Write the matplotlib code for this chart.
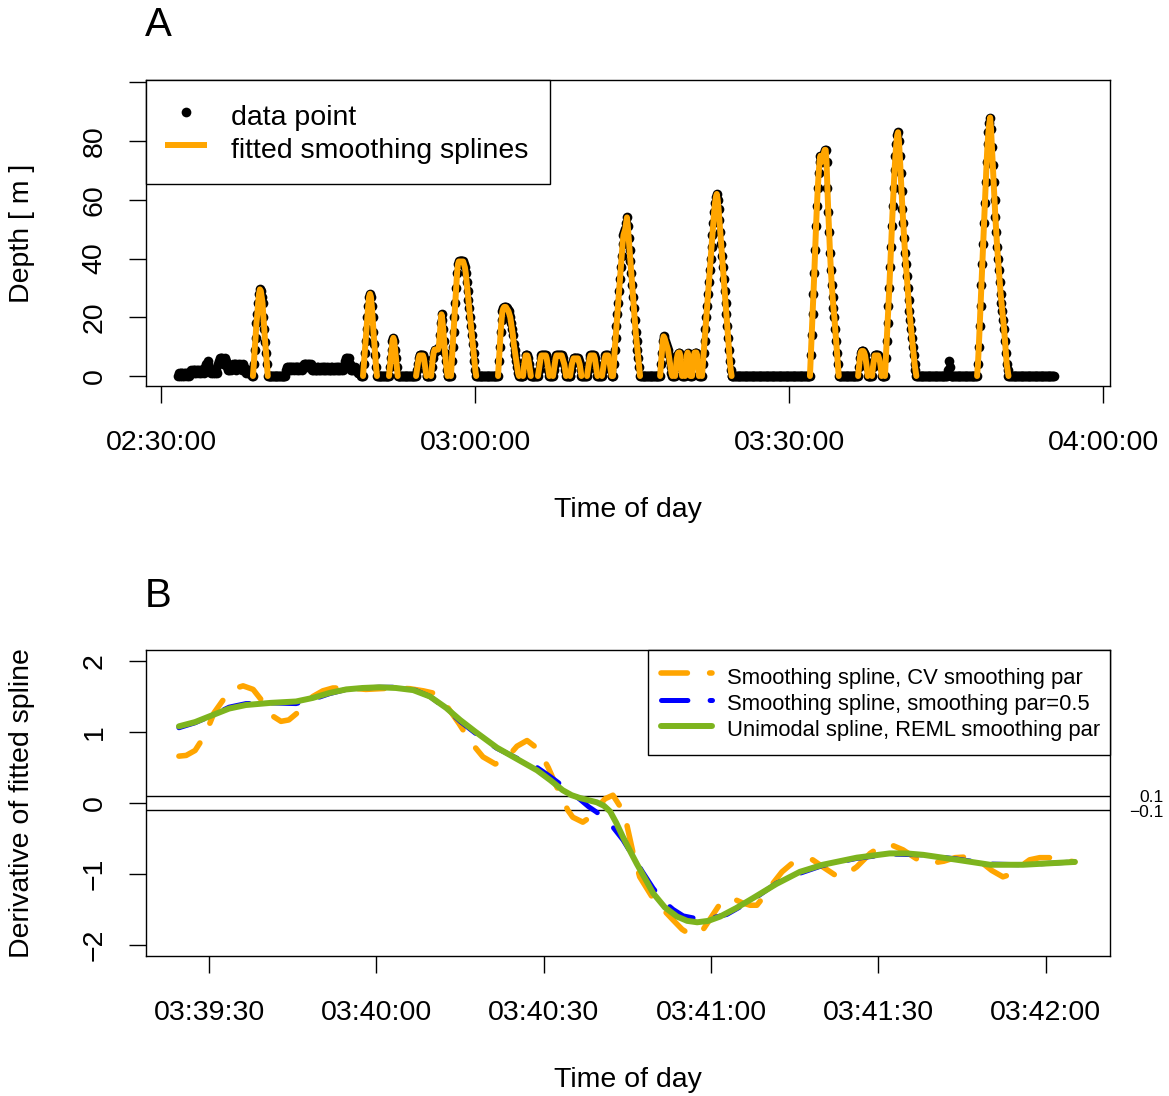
import numpy as np
import matplotlib
matplotlib.use("Agg")
import matplotlib.pyplot as plt
from matplotlib.lines import Line2D

plt.rcParams['font.family'] = ['Liberation Sans', 'DejaVu Sans']
plt.rcParams['lines.scale_dashes'] = False

W, H, DPI = 1169, 1096, 100

# ---------------- Panel A data : dive depth (m), one sample every 5 s ----------------
SAMPLE_STEP = 5
data_start = "02:31:37"
data_end = "03:55:19"

noise_a = [0, 1, 0, 1, 1, 0, 1, 0, 1, 1, 0, 1, 1, 0,
           1, 2, 1, 2, 2, 1, 2, 1, 2, 2, 1, 2, 2, 1, 2, 2, 1,
           3, 4, 3, 4, 5, 3, 2, 1,
           2, 1, 2, 2, 1, 2, 1,
           4, 5, 6, 6, 5, 6, 4, 5, 6, 5, 3, 2,
           3, 2, 3, 2, 3,
           4, 3, 4, 4, 2, 3, 4, 3, 4, 3, 2, 3, 4, 3, 2,
           1, 2, 1, 2, 1, 2, 1]
noise_b = [2, 3, 3, 2, 3, 3, 2, 3, 3, 2, 3, 3, 2, 3, 3, 2, 3, 3, 2, 3,
           4, 3, 4, 4, 3, 4, 4, 3, 4, 3, 2,
           2, 3, 2, 2, 3, 2, 3, 2, 2, 3, 2, 3, 3, 2, 2, 3, 2, 3, 2, 2, 3, 2, 3, 2, 2, 3, 2, 3, 3, 2, 2, 3, 2, 3, 2, 3, 4, 5,
           6, 6, 5, 6, 4, 3, 2,
           2, 3, 2, 3, 2, 2, 1, 2, 1, 1, 0]
dive1 = [0, 4, 9, 13, 18, 21, 25, 28, 29.5, 29, 27, 25, 20, 16, 11.5, 8, 4, 0]
dive2 = [0, 4, 8, 12, 16, 20, 24, 27, 28, 27, 24, 20, 15, 11, 7, 3, 0]
dive3 = [0, 3, 6, 9, 12, 13, 12, 9, 6, 3, 0]
dive4a = [0, 2, 4, 6, 7, 7, 7, 7, 7, 6, 4, 2, 0]
dive4b = [0, 3, 6, 8, 9, 9, 9, 9, 9, 10, 14, 18, 21, 19, 16, 12, 8, 5, 2, 0]
dive5 = [0, 5, 10, 15, 20, 25, 30, 35, 38, 39, 39, 39, 39, 39, 39, 38,
         37, 35, 32, 29, 26, 23, 20, 17, 14, 11, 8, 5, 2, 0]
dive6 = [0, 5, 10, 15, 19, 22, 23, 23.5, 23.5, 23.5, 23, 22.5, 22, 21, 20,
         18, 16, 14, 11, 9, 7, 5, 3, 1, 0]
bump1 = [0, 3, 5, 7, 7, 7, 6, 4, 2, 0]
bump2 = [0, 2, 4, 6, 7, 7, 7, 7, 7, 7, 6, 4, 2, 0]
bump3 = [0, 2, 4, 6, 7, 7, 7, 7, 7, 7, 7, 6, 5, 4, 2, 0]
bump4 = [0, 2, 4, 5, 6, 6, 6, 6, 6, 6, 5, 4, 2, 0]
bump5 = [0, 2, 4, 6, 7, 7, 7, 7, 7, 6, 4, 2, 0]
bump6 = [0, 2, 4, 6, 7, 7, 7, 7, 6, 4, 2, 0]
dive8 = [0, 4, 9, 13, 17, 21, 25, 29, 33, 37, 41, 45, 48, 49, 50, 52, 54,
         51, 47, 43, 39, 35, 31, 27, 23, 19, 15, 12, 9, 6, 3, 0]
dive9 = [0, 4, 8, 12, 13.5, 13, 12, 11, 10, 9, 7, 5, 3, 1, 0]
bump7 = [0, 3, 6, 7.5, 8, 8, 7, 4, 0]
bump8 = [0, 4, 7, 8, 7, 4, 0]
bump9 = [0, 4, 7, 8, 8, 8, 7, 4, 0]
dive10 = [0, 4, 8, 12, 16, 20, 24, 28, 32, 36, 40, 44, 48, 52, 56, 59, 61, 62,
          60, 57, 53, 49, 45, 41, 37, 33, 29, 25, 21, 17, 13, 9, 5, 2, 0]
dive11 = [0, 7, 14, 21, 28, 35, 43, 51, 58, 64, 69, 73, 75, 74, 73, 74, 76, 77, 77,
          73, 64, 56, 49, 42, 36, 31, 27, 23, 20, 16, 12, 8, 4, 0]
bump10 = [0, 3, 6, 8, 8.5, 8.5, 8.5, 8, 7, 5, 3, 0]
bump11 = [0, 3, 5, 7, 7, 7, 7, 7, 6, 5, 3, 0]
dive13 = [0, 6, 12, 18, 24, 30, 37, 44, 51, 58, 64, 70, 75, 79, 82, 83,
          80, 75, 69, 63, 57, 52, 47, 42, 38, 34, 30, 26, 22, 19, 16, 13, 10, 7, 4, 2, 0]
spot = [2, 5, 3]
dive15 = [0, 4, 10, 17, 24, 31, 38, 45, 52, 59, 66, 73, 79, 83, 86, 88,
          84, 78, 72, 66, 60, 54, 49, 44, 40, 36, 32, 28, 25, 22, 19, 16, 12, 8, 4, 2, 0]

# (start time, depths, has fitted spline)
segments = [
    ("02:31:37", noise_a, False), ("02:38:47", dive1, True), ("02:41:57", noise_b, False),
    ("02:49:18", dive2, True), ("02:51:47", dive3, True), ("02:54:22", dive4a, True),
    ("02:55:48", dive4b, True), ("02:57:42", dive5, True), ("03:02:12", dive6, True),
    ("03:04:35", bump1, True), ("03:06:01", bump2, True), ("03:07:27", bump3, True),
    ("03:09:05", bump4, True), ("03:10:42", bump5, True), ("03:12:08", bump6, True),
    ("03:13:11", dive8, True), ("03:17:41", dive9, True), ("03:19:07", bump7, True),
    ("03:20:04", bump8, True), ("03:20:44", bump9, True), ("03:21:41", dive10, True),
    ("03:32:00", dive11, True), ("03:36:36", bump10, True), ("03:37:56", bump11, True),
    ("03:39:10", dive13, True), ("03:45:12", spot, False), ("03:47:58", dive15, True),
]

a_tick_labels = ["02:30:00", "03:00:00", "03:30:00", "04:00:00"]
a_y_ticks = [0, 20, 40, 60, 80, 100]


def secs(s, ref="02:30:00"):
    h, m, x = map(int, s.split(":"))
    rh, rm, rx = map(int, ref.split(":"))
    return (h * 3600 + m * 60 + x) - (rh * 3600 + rm * 60 + rx)


t_all, d_all, fits = [], [], []
cur = secs(data_start) - SAMPLE_STEP
for start, depths, fitted in segments:
    s0 = secs(start)
    gap = np.arange(cur + SAMPLE_STEP, s0 - SAMPLE_STEP / 2, SAMPLE_STEP)
    t_all += list(gap)
    d_all += [0] * len(gap)
    ts = s0 + SAMPLE_STEP * np.arange(len(depths))
    t_all += list(ts)
    d_all += list(depths)
    if fitted:
        fits.append((ts, depths))
    cur = ts[-1]
gap = np.arange(cur + SAMPLE_STEP, secs(data_end) + SAMPLE_STEP / 2, SAMPLE_STEP)
t_all += list(gap)
d_all += [0] * len(gap)

# ---------------- Panel B data : derivative (m/s), time = seconds after 03:39:00 ----------------
cv_t = [24.6, 25.9, 27.5, 29.3, 30.9, 32.7, 34.5, 36.1, 37.9, 39.7, 41.3, 42.9, 44.3, 46.3,
        48.6, 50.4, 52.2, 55.3, 58.1, 60.6, 63.3, 66.0, 68.4, 70.1, 71.6, 73.2, 74.8, 77.0,
        79.1, 81.3, 83.0, 85.2, 87.0, 89.0, 90.8, 92.2, 93.3, 94.3, 95.2, 97.0, 98.3, 99.5,
        101.0, 102.4, 103.7, 104.9, 106.0, 107.2, 109.4, 111.4, 113.2, 114.8, 116.2, 117.5,
        118.5, 120.1, 121.6, 122.8, 124.3, 125.7, 127.0, 128.2, 129.6, 131.1, 132.7, 134.5,
        136.5, 138.2, 140.4, 142.7, 144.3, 146.1, 148.5, 150.8, 152.6, 154.4, 156.9, 159.2,
        161.7, 163.7, 165.8, 168.2, 170.3, 172.3, 173.9, 175.7, 177.1, 178.9, 180.7, 182.9, 185.2]
cv_v = [0.66, 0.67, 0.74, 0.96, 1.27, 1.47, 1.61, 1.65, 1.60, 1.42, 1.23, 1.15, 1.17, 1.30,
        1.50, 1.58, 1.62, 1.62, 1.60, 1.61, 1.62, 1.61, 1.58, 1.55, 1.48, 1.30, 1.12, 0.85,
        0.65, 0.55, 0.60, 0.80, 0.88, 0.76, 0.50, 0.25, 0.07, -0.10, -0.20, -0.27, -0.20, -0.07,
        0.06, 0.11, -0.05, -0.31, -0.70, -1.04, -1.32, -1.50, -1.65, -1.78, -1.85, -1.85,
        -1.79, -1.60, -1.42, -1.34, -1.36, -1.41, -1.44, -1.44, -1.30, -1.13, -0.97, -0.85,
        -0.79, -0.80, -0.92, -1.04, -1.00, -0.90, -0.71, -0.59, -0.60, -0.66, -0.79, -0.85,
        -0.82, -0.77, -0.76, -0.82, -0.95, -1.04, -1.00, -0.88, -0.80, -0.77, -0.77, -0.80, -0.83]

sp05_t = [24.6, 27.5, 30.7, 33.6, 36.6, 41.0, 45.6, 48.6, 51.6, 54.6, 57.5, 60.5, 63.5, 66.6,
          69.6, 72.5, 75.0, 77.8, 81.6, 85.2, 88.8, 91.2, 93.4, 95.0, 96.5, 98.0, 99.5, 101.0,
          102.4, 104.2, 106.0, 107.7, 109.6, 111.4, 113.2, 115.0, 117.5, 120.1, 122.8, 127.5,
          131.7, 135.9, 140.0, 146.1, 152.0, 158.0, 164.1, 170.0, 175.9, 180.5, 185.2]
sp05_v = [1.06, 1.13, 1.24, 1.35, 1.40, 1.41, 1.40, 1.46, 1.54, 1.60, 1.62, 1.63, 1.63, 1.60,
          1.50, 1.33, 1.15, 0.98, 0.77, 0.63, 0.50, 0.37, 0.24, 0.14, 0.05, -0.05, -0.13, -0.23,
          -0.34, -0.52, -0.75, -0.97, -1.20, -1.38, -1.50, -1.59, -1.63, -1.62, -1.57, -1.36,
          -1.13, -0.99, -0.88, -0.78, -0.72, -0.73, -0.79, -0.86, -0.87, -0.85, -0.83]

uni_t = [24.6, 27.5, 30.7, 33.6, 36.6, 41.0, 45.6, 48.6, 51.6, 54.6, 57.5, 60.5, 63.5, 66.6,
         69.6, 72.5, 75.0, 77.8, 81.6, 85.2, 88.8, 91.2, 93.4, 95.0, 96.5, 98.0, 99.5, 100.8,
         101.9, 103.0, 104.2, 105.5, 106.7, 108.2, 109.6, 111.7, 113.9, 115.7, 117.5, 119.5,
         121.6, 124.5, 127.5, 131.7, 135.9, 140.0, 146.1, 152.0, 155.0, 158.0, 164.1, 170.0,
         175.9, 180.5, 185.2]
uni_v = [1.08, 1.14, 1.24, 1.33, 1.38, 1.41, 1.43, 1.48, 1.55, 1.60, 1.62, 1.63, 1.62, 1.59,
         1.50, 1.34, 1.17, 1.00, 0.78, 0.62, 0.46, 0.32, 0.18, 0.11, 0.07, 0.04, 0.01, -0.04,
         -0.12, -0.28, -0.48, -0.68, -0.86, -1.07, -1.27, -1.47, -1.60, -1.66, -1.68, -1.66,
         -1.60, -1.48, -1.34, -1.14, -0.97, -0.87, -0.77, -0.71, -0.71, -0.73, -0.80, -0.87,
         -0.87, -0.85, -0.83]

b_ticks = [30, 60, 90, 120, 150, 180]
b_tick_labels = ["03:39:30", "03:40:00", "03:40:30", "03:41:00", "03:41:30", "03:42:00"]
b_y_ticks = [-2, -1, 0, 1, 2]
threshold = 0.1

ORANGE = "#FFA500"
GREEN = "#7DB41E"
FS = 20.5

fig = plt.figure(figsize=(W / DPI, H / DPI), dpi=DPI)
ax1 = fig.add_axes([146 / W, 1 - 386 / H, 964 / W, 306 / H])
ax2 = fig.add_axes([146 / W, 1 - 956 / H, 964 / W, 306 / H])

# ---- Panel A ----
ax1.plot(t_all, d_all, "o", color="black", ms=7, mew=0, zorder=2)
for ts, ds in fits:
    ax1.plot(ts, ds, color=ORANGE, lw=4.3, solid_capstyle="round",
             solid_joinstyle="round", zorder=3)
ax1.set_xlim(-86, 5440)
ax1.set_ylim(-3.4, 100.8)
ax1.set_xticks([secs(l) for l in a_tick_labels], a_tick_labels)
ax1.set_yticks(a_y_ticks, [str(v) for v in a_y_ticks[:-1]] + [""],
               rotation=90, va="center")

hA = [Line2D([], [], ls="none", marker="o", color="black", ms=7, mew=0),
      Line2D([], [], color=ORANGE, lw=4.3, solid_capstyle="butt")]
legA = ax1.legend(hA, ["data point", "fitted smoothing splines"], loc="upper left",
                  bbox_to_anchor=(0, 1, 404 / 964, 0), mode="expand", borderaxespad=0,
                  fontsize=FS, fancybox=False, edgecolor="black", framealpha=1,
                  handlelength=1.45, handletextpad=0.84, borderpad=0.68, labelspacing=0.0,
                  handleheight=1.4)
legA.get_frame().set_linewidth(1.0)

# ---- Panel B ----
dash = (0, (19, 16))
ax2.axhline(threshold, color="black", lw=1.0, zorder=1)
ax2.axhline(-threshold, color="black", lw=1.0, zorder=1)
l1, = ax2.plot(cv_t, cv_v, color=ORANGE, lw=4.0, ls=dash, dash_capstyle="round", zorder=2)
l2, = ax2.plot(sp05_t, sp05_v, color="blue", lw=3.6, ls=dash, dash_capstyle="round", zorder=3)
l3, = ax2.plot(uni_t, uni_v, color=GREEN, lw=4.3, solid_capstyle="round", zorder=4)
ax2.set_xlim(18.7, 191.5)
ax2.set_ylim(-2.155, 2.155)
ax2.set_xticks(b_ticks, b_tick_labels)
ax2.set_yticks(b_y_ticks, [str(v).replace("-", "\u2212") for v in b_y_ticks],
               rotation=90, va="center")
legB = ax2.legend([l1, l2, l3],
                  ["Smoothing spline, CV smoothing par",
                   "Smoothing spline, smoothing par=0.5",
                   "Unimodal spline, REML smoothing par"],
                  loc="upper left", bbox_to_anchor=(502 / 964, 1, 462 / 964, 0), mode="expand",
                  borderaxespad=0, fontsize=15.8, fancybox=False, edgecolor="black",
                  framealpha=1, handlelength=2.3, handletextpad=0.7, borderpad=0.6,
                  labelspacing=0.0, handleheight=1.46)
legB.get_frame().set_linewidth(1.0)

for ax in (ax1, ax2):
    for s in ax.spines.values():
        s.set_linewidth(1.0)
    ax.tick_params(length=12.5, width=1.0, labelsize=FS, direction="out")
    ax.tick_params(axis="x", pad=19)
    ax.tick_params(axis="y", pad=15)

# labels
fig.text(628 / W, 1 - 510 / H, "Time of day", ha="center", va="center", fontsize=FS)
fig.text(628 / W, 1 - 1080 / H, "Time of day", ha="center", va="center", fontsize=FS)
fig.text(22 / W, 1 - 233 / H, "Depth [ m ]", rotation=90, ha="center", va="center", fontsize=FS)
fig.text(22 / W, 1 - 803 / H, "Derivative of fitted spline", rotation=90, ha="center",
         va="center", fontsize=FS)
fig.text(145 / W, 1 - 36 / H, "A", ha="left", va="baseline", fontsize=29)
fig.text(145 / W, 1 - 607 / H, "B", ha="left", va="baseline", fontsize=29)
fig.text(1164 / W, 1 - 802 / H, "0.1", ha="right", va="baseline", fontsize=12.5)
fig.text(1164 / W, 1 - 817 / H, "\u22120.1", ha="right", va="baseline", fontsize=12.5)

fig.savefig("out.png", dpi=DPI)
